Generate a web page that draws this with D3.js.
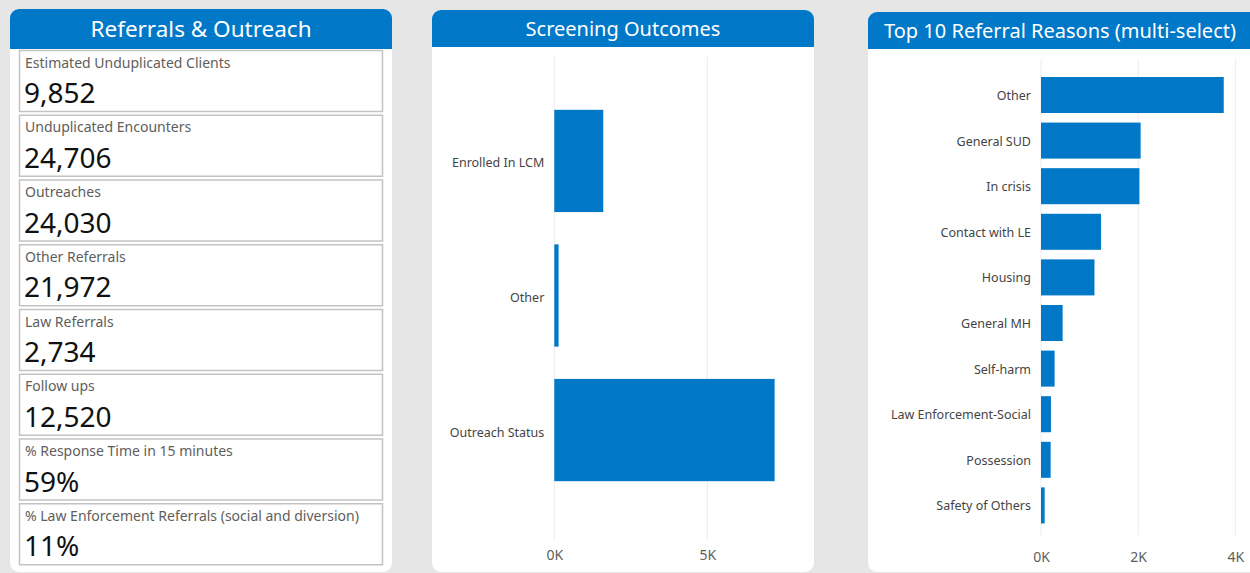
<!DOCTYPE html>
<html><head><meta charset="utf-8">
<script src="https://cdn.jsdelivr.net/npm/d3@7"></script>
<style>
html,body{margin:0;padding:0;background:#e6e6e6;overflow:hidden}
text{font-family:"Noto Sans","Open Sans",sans-serif}
</style></head>
<body>
<svg id="c" width="1250" height="573"></svg>
<script>
// ---- data ----
const kpiLabels = ["Estimated Unduplicated Clients","Unduplicated Encounters","Outreaches","Other Referrals","Law Referrals","Follow ups","% Response Time in 15 minutes","% Law Enforcement Referrals (social and diversion)"];
const kpiValues = ["9,852","24,706","24,030","21,972","2,734","12,520","59%","11%"];

const screenCats = ["Enrolled In LCM","Other","Outreach Status"];
const screenVals = [1600, 140, 7200];
const screenTicks = [0, 5000];

const reasonCats = ["Other","General SUD","In crisis","Contact with LE","Housing","General MH","Self-harm","Law Enforcement-Social","Possession","Safety of Others"];
const reasonVals = [3760, 2050, 2025, 1235, 1100, 445, 280, 205, 198, 75];
const reasonTicks = [0, 2000, 4000];

const titles = ["Referrals & Outreach","Screening Outcomes","Top 10 Referral Reasons (multi-select)"];

const BLUE = "#0078c8";
const svg = d3.select("#c");
svg.append("rect").attr("width",1250).attr("height",573).attr("fill","#e6e6e6");

function panel(x, y, w, h, hy1, title, fs){
  const r = 9;
  svg.append("rect").attr("x",x).attr("y",y).attr("width",w).attr("height",h).attr("rx",r).attr("fill","#fff");
  const p = d3.path();
  p.moveTo(x, hy1); p.lineTo(x, y+r); p.arcTo(x, y, x+r, y, r); p.lineTo(x+w-r, y); p.arcTo(x+w, y, x+w, y+r, r); p.lineTo(x+w, hy1); p.closePath();
  svg.append("path").attr("d", p.toString()).attr("fill", BLUE);
  return svg.append("text").attr("x", x + w/2).attr("y", (y+hy1)/2).attr("dy","0.36em")
    .attr("text-anchor","middle").attr("fill","#fff").attr("font-size",fs).text(title);
}

// ---- left panel ----
panel(10, 9, 382, 563, 49, titles[0], 22.5);
kpiLabels.forEach((lab, i) => {
  const top = 50 + i*64.75;
  svg.append("rect").attr("x",19.5).attr("y",top+0.5).attr("width",363).attr("height",61)
    .attr("fill","#fff").attr("stroke","#c3c3c3").attr("stroke-width",1.5);
  svg.append("text").attr("x",25).attr("y",top+17.5).attr("font-size",14).attr("fill","#605e5c").text(lab);
  svg.append("text").attr("x",24).attr("y",top+53).attr("font-size",28).attr("fill","#111").text(kpiValues[i]);
});

// ---- middle panel ----
panel(432, 10, 382, 562, 47, titles[1], 20);
const xs = d3.scaleLinear().domain([0, 5000]).range([554.3, 707.3]);
const ys = d3.scaleBand().domain(screenCats).range([56, 535]).paddingInner(0.24).paddingOuter(0.4);
const gm = svg.append("g");
gm.selectAll("line.g").data(screenTicks).join("line").attr("x1",d=>xs(d)).attr("x2",d=>xs(d))
  .attr("y1",57).attr("y2",540).attr("stroke","#ececec").attr("stroke-width",1);
gm.selectAll("rect").data(screenCats).join("rect")
  .attr("x", xs(0)).attr("y", d=>ys(d)).attr("height", ys.bandwidth())
  .attr("width", (d,i)=>xs(screenVals[i]) - xs(0)).attr("fill", BLUE);
const axM = d3.axisBottom(xs).tickValues(screenTicks).tickFormat(d=>(d/1000)+"K").tickSize(0);
const gax = svg.append("g").attr("transform","translate(0,547)").call(axM);
gax.select(".domain").remove();
gax.selectAll("text").attr("font-size",14).attr("fill","#605e5c").attr("font-family","Noto Sans, sans-serif");
const ayM = d3.axisLeft(ys).tickSize(0).tickPadding(10);
const gay = svg.append("g").attr("transform",`translate(${xs(0)},2.5)`).call(ayM);
gay.select(".domain").remove();
gay.selectAll("text").attr("font-size",12.5).attr("fill","#444").attr("font-family","Noto Sans, sans-serif");

// ---- right panel ----
panel(868, 12, 400, 560, 49, titles[2], 20).attr("x", 1060);
const xr = d3.scaleLinear().domain([0, 2000]).range([1041, 1138.2]);
const yr = d3.scaleBand().domain(reasonCats).range([63.3, 537.1]).paddingInner(0.21).paddingOuter(0.3);
const gr = svg.append("g");
gr.selectAll("line.g").data(reasonTicks).join("line").attr("x1",d=>xr(d)).attr("x2",d=>xr(d))
  .attr("y1",59).attr("y2",535).attr("stroke","#ececec").attr("stroke-width",1);
gr.selectAll("rect").data(reasonCats).join("rect")
  .attr("x", xr(0)).attr("y", d=>yr(d)).attr("height", yr.bandwidth())
  .attr("width", (d,i)=>xr(reasonVals[i]) - xr(0)).attr("fill", BLUE);
const axR = d3.axisBottom(xr).tickValues(reasonTicks).tickFormat(d=>(d/1000)+"K").tickSize(0);
const gax2 = svg.append("g").attr("transform","translate(0,549)").call(axR);
gax2.select(".domain").remove();
gax2.selectAll("text").attr("font-size",14).attr("fill","#605e5c").attr("font-family","Noto Sans, sans-serif");
const ayR = d3.axisLeft(yr).tickSize(0).tickPadding(10);
const gay2 = svg.append("g").attr("transform",`translate(${xr(0)},1)`).call(ayR);
gay2.select(".domain").remove();
gay2.selectAll("text").attr("font-size",12.5).attr("fill","#444").attr("font-family","Noto Sans, sans-serif");
</script>
</body></html>
